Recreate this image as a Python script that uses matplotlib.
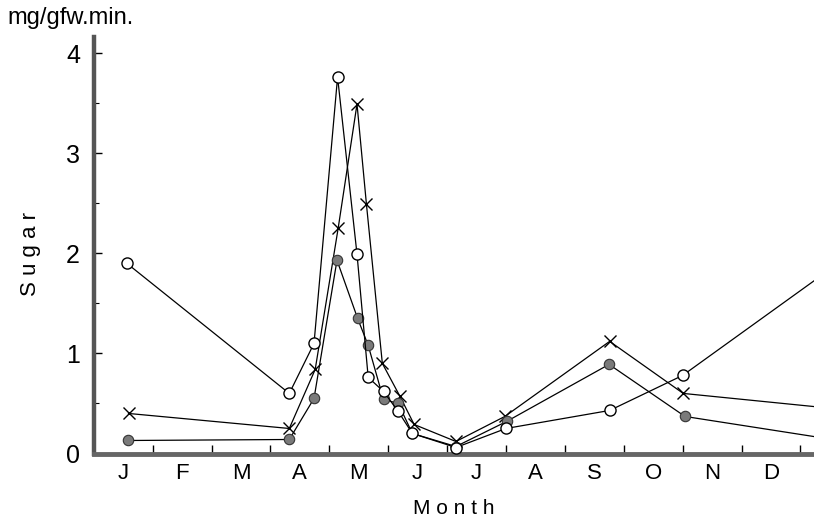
import matplotlib
matplotlib.use('Agg')
import matplotlib.pyplot as plt
import numpy as np
from matplotlib.ticker import FixedLocator, MultipleLocator, NullFormatter

plt.rcParams['font.family'] = ['Liberation Sans', 'DejaVu Sans']

months = ['J', 'F', 'M', 'A', 'M', 'J', 'J', 'A', 'S', 'O', 'N', 'D']

# time in months from 1 Jan
open_t = [0.56, 3.32, 3.74, 4.14, 4.47, 4.66, 4.92, 5.17, 5.41, 6.15, 7.00, 8.76, 10.00, 12.55]
open_v = [1.90, 0.60, 1.10, 3.76, 1.99, 0.76, 0.62, 0.42, 0.20, 0.06, 0.25, 0.43, 0.78, 1.86]

fill_t = [0.58, 3.32, 3.74, 4.13, 4.48, 4.66, 4.92, 5.17, 5.41, 6.15, 7.01, 8.75, 10.04, 12.55]
fill_v = [0.13, 0.14, 0.55, 1.93, 1.35, 1.08, 0.54, 0.50, 0.20, 0.07, 0.32, 0.89, 0.37, 0.14]

cross_t = [0.59, 3.32, 3.76, 4.15, 4.47, 4.63, 4.90, 5.20, 5.44, 6.15, 6.98, 8.76, 10.01, 12.55]
cross_v = [0.40, 0.25, 0.84, 2.25, 3.49, 2.49, 0.90, 0.57, 0.29, 0.12, 0.37, 1.12, 0.60, 0.45]

fig = plt.figure(figsize=(8.14, 5.18), dpi=100)
ax = fig.add_axes([0.1152, 0.1245, 0.8848, 0.8041])

ax.plot(cross_t, cross_v, color='k', lw=0.9, marker='x', ms=8, mew=1.0, zorder=3)
ax.plot(fill_t, fill_v, color='k', lw=0.9, marker='o', ms=7.5, mfc='#7a7a7a', mec='#333333', mew=0.8, zorder=4)
ax.plot(open_t, open_v, color='k', lw=0.9, marker='o', ms=8, mfc='white', mec='k', mew=1.0, zorder=5)

ax.set_xlim(0, 12.23)
ax.set_ylim(0, 4.16)

for s in ['top', 'right']:
    ax.spines[s].set_visible(False)
ax.spines['left'].set_color('#555555')
ax.spines['left'].set_linewidth(3.2)
ax.spines['bottom'].set_color('#666666')
ax.spines['bottom'].set_linewidth(3.5)

ax.xaxis.set_major_locator(FixedLocator(np.arange(1, 13)))
ax.xaxis.set_major_formatter(NullFormatter())
ax.xaxis.set_minor_locator(FixedLocator(np.arange(12) + 0.5))
ax.set_xticklabels(months, minor=True)
ax.tick_params(axis='x', which='major', direction='in', length=6.5, width=1.0, color='k')
ax.tick_params(axis='x', which='minor', length=0, pad=7, labelsize=16)

ax.yaxis.set_major_locator(MultipleLocator(1))
ax.yaxis.set_minor_locator(MultipleLocator(0.5))
ax.tick_params(axis='y', which='major', direction='in', length=6, width=1.0, color='k', pad=10, labelsize=18)
ax.tick_params(axis='y', which='minor', direction='in', length=3.5, width=0.8, color='k')

fig.text(0.009, 0.965, 'mg/gfw.min.', fontsize=17, va='center', ha='left')
fig.text(0.557, 0.008, 'M o n t h', fontsize=15, ha='center', va='baseline')
fig.text(0.037, 0.51, 'S u g a r', fontsize=16, rotation=90, ha='center', va='center')

fig.savefig('out.png', dpi=100, facecolor='w')
